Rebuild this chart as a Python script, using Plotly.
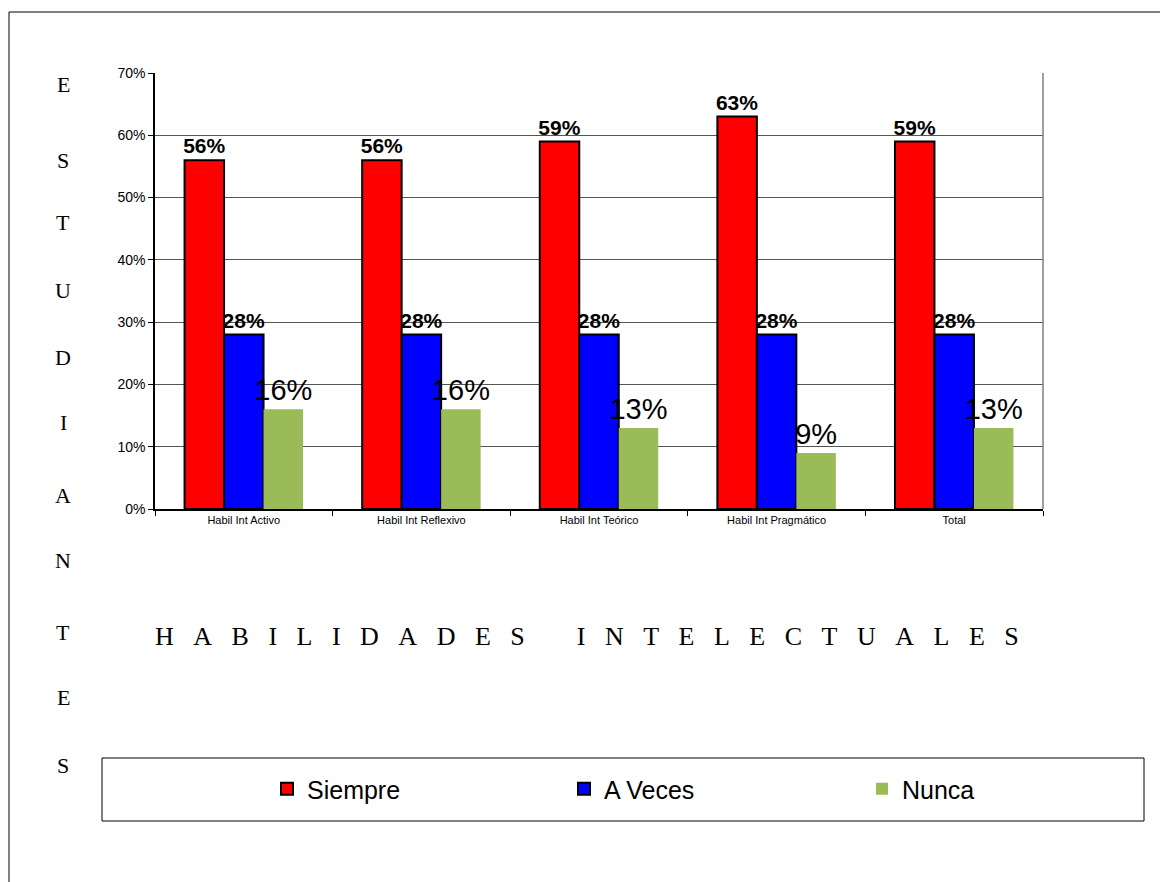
import plotly.graph_objects as go

categories = ["Habil Int Activo", "Habil Int Reflexivo", "Habil Int Teórico", "Habil Int Pragmático", "Total"]
siempre = [0.56, 0.56, 0.59, 0.63, 0.59]
a_veces = [0.28, 0.28, 0.28, 0.28, 0.28]
nunca = [0.16, 0.16, 0.13, 0.09, 0.13]
y_ticks = [0, 0.1, 0.2, 0.3, 0.4, 0.5, 0.6, 0.7]
y_tick_labels = ["0%", "10%", "20%", "30%", "40%", "50%", "60%", "70%"]
y_title_letters = list("ESTUDIANTES")
x_title_words = ["HABILIDADES", "INTELECTUALES"]

W, H = 1160, 882
L, R, T, B = 155, 1043, 73, 509
pw, ph = R - L, B - T

def px(x):
    return (x - L) / pw

def py(y):
    return (B - y) / ph

NB = "\u00a0"
x_title = (NB * 8).join((NB * 3).join(w) for w in x_title_words)

fig = go.Figure()
fig.add_trace(go.Bar(
    x=categories, y=siempre, name="Siempre", legend="legend",
    marker=dict(color="#FF0000", line=dict(color="#000000", width=2)),
    texttemplate="<b>%{y:.0%}</b>", textposition="outside", constraintext="none",
    textfont=dict(family="Arial", size=21, color="#000000"),
    cliponaxis=False,
))
fig.add_trace(go.Bar(
    x=categories, y=a_veces, name="A Veces", legend="legend2",
    marker=dict(color="#0000FF", line=dict(color="#000000", width=2)),
    texttemplate="<b>%{y:.0%}</b>", textposition="outside", constraintext="none",
    textfont=dict(family="Arial", size=21, color="#000000"),
    cliponaxis=False,
))
fig.add_trace(go.Bar(
    x=categories, y=nunca, name="Nunca", legend="legend3",
    marker=dict(color="#9BBB59", line=dict(width=0)),
    texttemplate="%{y:.0%}", textposition="outside", constraintext="none",
    textfont=dict(family="Arial", size=29, color="#000000"),
    cliponaxis=False,
))

shapes = [
    dict(type="rect", xref="paper", yref="paper",
         x0=px(9), x1=px(1175), y0=py(900), y1=py(12),
         line=dict(color="#000000", width=1), layer="below"),
    dict(type="rect", xref="paper", yref="paper",
         x0=px(102), x1=px(1144), y0=py(821), y1=py(758),
         line=dict(color="#000000", width=1)),
    dict(type="line", xref="paper", yref="paper",
         x0=1, x1=1, y0=0, y1=1, line=dict(color="#808080", width=1.5)),
]

letter_y = [85, 160, 222, 290, 357, 422, 495, 560, 632, 697, 765]
annotations = []
for ch, yy in zip(y_title_letters, letter_y):
    annotations.append(dict(
        text=ch, xref="paper", yref="paper", x=px(63), y=py(yy),
        showarrow=False, xanchor="center", yanchor="middle",
        font=dict(family="Liberation Serif", size=22, color="#000000")))
annotations.append(dict(
    text=x_title, xref="paper", yref="paper", x=px(153), y=py(636),
    showarrow=False, xanchor="left", yanchor="middle",
    font=dict(family="Liberation Serif", size=26, color="#000000")))

def leg(xpix):
    return dict(orientation="h", x=px(xpix), y=py(789), xanchor="left", yanchor="middle",
                font=dict(family="Arial", size=25, color="#000000"),
                bgcolor="rgba(0,0,0,0)", borderwidth=0)

fig.update_layout(
    width=W, height=H,
    margin=dict(l=L, r=W - R, t=T, b=H - B, pad=0),
    paper_bgcolor="#FFFFFF", plot_bgcolor="#FFFFFF",
    barmode="group", bargap=0.333, bargroupgap=0,
    font=dict(family="Arial", color="#000000"),
    showlegend=True,
    legend=leg(267), legend2=leg(564), legend3=leg(862),
    shapes=shapes, annotations=annotations,
    xaxis=dict(showline=True, linecolor="#000000", linewidth=1.5,
               ticks="outside", ticklen=5, tickcolor="#000000",
               tickson="boundaries",
               tickfont=dict(family="Arial", size=11, color="#000000"),
               showgrid=False),
    yaxis=dict(range=[0, 0.7], tickvals=y_ticks, ticktext=y_tick_labels,
               showline=True, linecolor="#000000", linewidth=1.5,
               ticks="outside", ticklen=5, tickcolor="#000000",
               tickfont=dict(family="Arial", size=14, color="#000000"),
               showgrid=True, gridcolor="#555555", gridwidth=1, zeroline=False),
    hovermode=False,
)

fig.write_html("out.html")
